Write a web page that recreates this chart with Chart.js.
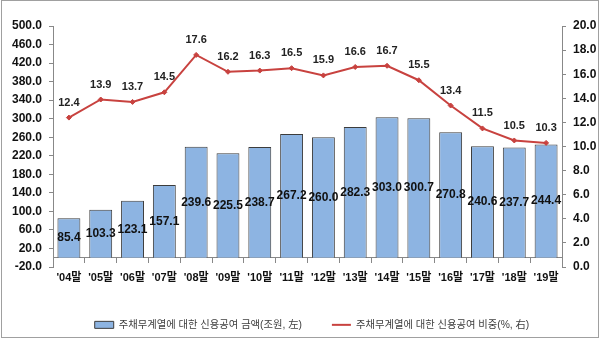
<!DOCTYPE html>
<html>
<head>
<meta charset="utf-8">
<script src="https://cdn.jsdelivr.net/npm/chart.js@4.4.1/dist/chart.umd.min.js"></script>
<style>
  html, body { margin: 0; padding: 0; background: #ffffff; }
  #wrap { width: 600px; height: 340px; position: relative; }
</style>
</head>
<body>
<div id="wrap"><canvas id="c" width="600" height="340"></canvas></div>
<script>
const categories = ["'04말", "'05말", "'06말", "'07말", "'08말", "'09말", "'10말", "'11말", "'12말", "'13말", "'14말", "'15말", "'16말", "'17말", "'18말", "'19말"];
const creditAmount = [85.4, 103.3, 123.1, 157.1, 239.6, 225.5, 238.7, 267.2, 260.0, 282.3, 303.0, 300.7, 270.8, 240.6, 237.7, 244.4];
const creditShare = [12.4, 13.9, 13.7, 14.5, 17.6, 16.2, 16.3, 16.5, 15.9, 16.6, 16.7, 15.5, 13.4, 11.5, 10.5, 10.3];
const seriesNames = ["주채무계열에 대한 신용공여 금액(조원, 左)", "주채무계열에 대한 신용공여 비중(%, 右)"];
const leftTicks = { min: -20, max: 500, step: 40 };
const rightTicks = { min: 0, max: 20, step: 2 };

const FONT = "'Liberation Sans', 'Noto Sans CJK KR', Arial, sans-serif";
Chart.defaults.font.family = FONT;

const frame = {
  id: 'frame',
  beforeDraw(chart) {
    const ctx = chart.ctx;
    ctx.save();
    ctx.fillStyle = '#ffffff';
    ctx.fillRect(0, 0, chart.width, chart.height);
    ctx.strokeStyle = '#a0a0a0';
    ctx.lineWidth = 1;
    ctx.strokeRect(1.5, 0.5, 597, 337);
    ctx.restore();
  }
};

const legendShift = {
  id: 'legendShift',
  afterLayout(chart) {
    const lg = chart.legend;
    if (lg) { lg.left += 12; lg.right += 12; }
  }
};

const valueLabels = {
  id: 'valueLabels',
  afterDatasetsDraw(chart) {
    const ctx = chart.ctx;
    ctx.save();
    ctx.textAlign = 'center';
    ctx.textBaseline = 'middle';
    chart.data.datasets.forEach((ds, di) => {
      const meta = chart.getDatasetMeta(di);
      meta.data.forEach((el, i) => {
        const v = ds.data[i];
        if (ds.type === 'bar') {
          ctx.font = "bold 12px " + FONT;
          ctx.fillStyle = '#111111';
          ctx.fillText(v.toFixed(1), el.x, (el.y + el.base) / 2);
        } else {
          ctx.font = "bold 11px " + FONT;
          ctx.fillStyle = '#222222';
          ctx.fillText(v.toFixed(1), el.x, el.y - 15);
        }
      });
    });
    ctx.restore();
  }
};

new Chart(document.getElementById('c'), {
  data: {
    labels: categories,
    datasets: [
      {
        type: 'bar',
        label: seriesNames[0],
        data: creditAmount,
        yAxisID: 'y',
        backgroundColor: '#8db4e2',
        borderColor: '#3c3c3c',
        borderWidth: 1,
        barPercentage: 0.72,
        categoryPercentage: 1.0,
        order: 2
      },
      {
        type: 'line',
        label: seriesNames[1],
        data: creditShare,
        yAxisID: 'y2',
        borderColor: '#c8423f',
        backgroundColor: '#c8423f',
        borderWidth: 2,
        pointStyle: 'rectRot',
        pointRadius: 2.5,
        pointBorderWidth: 1,
        tension: 0,
        order: 1
      }
    ]
  },
  options: {
    responsive: false,
    animation: false,
    layout: { padding: { top: 26, left: 0, right: 0, bottom: 0 } },
    plugins: {
      tooltip: { enabled: false },
      legend: {
        position: 'bottom',
        title: { display: true, text: '', padding: { top: 0, bottom: 8.3 }, font: { size: 12 } },
        labels: {
          font: { size: 10.3 },
          color: '#404040',
          padding: 30,
          boxWidth: 19,
          boxHeight: 7,
          usePointStyle: true,
          pointStyleWidth: 19,
          sort: (a, b) => a.datasetIndex - b.datasetIndex,
          generateLabels(chart) {
            return chart.data.datasets.map((ds, i) => ({
              text: ds.label,
              datasetIndex: i,
              fillStyle: ds.type === 'bar' ? '#8db4e2' : '#c8423f',
              strokeStyle: ds.type === 'bar' ? '#3c3c3c' : '#c8423f',
              lineWidth: ds.type === 'bar' ? 1 : 2,
              pointStyle: ds.type === 'bar' ? 'rect' : 'line',
              fontColor: '#404040',
              hidden: false
            }));
          }
        }
      }
    },
    scales: {
      x: {
        position: { y: 0 },
        offset: true,
        grid: { display: true, drawOnChartArea: false, tickLength: 5, color: '#888888', offset: true },
        border: { display: true, color: '#888888', width: 1 },
        ticks: { font: { size: 11, weight: 'bold' }, color: '#111111', padding: 9, maxRotation: 0, autoSkip: false }
      },
      y: {
        position: 'left',
        min: leftTicks.min,
        max: leftTicks.max,
        afterFit(scale) { scale.width = 53; },
        grid: { display: true, drawOnChartArea: false, tickLength: 4, color: '#888888' },
        border: { display: true, color: '#888888', width: 1 },
        ticks: { stepSize: leftTicks.step, font: { size: 12, weight: 'bold' }, color: '#111111', padding: 7,
                 callback: v => Number(v).toFixed(1) }
      },
      y2: {
        position: 'right',
        min: rightTicks.min,
        max: rightTicks.max,
        afterFit(scale) { scale.width = 38; },
        grid: { display: true, drawOnChartArea: false, tickLength: 4, color: '#888888' },
        border: { display: true, color: '#888888', width: 1 },
        ticks: { stepSize: rightTicks.step, font: { size: 12, weight: 'bold' }, color: '#111111', padding: 7,
                 callback: v => Number(v).toFixed(1) }
      }
    }
  },
  plugins: [frame, legendShift, valueLabels]
});
</script>
</body>
</html>
